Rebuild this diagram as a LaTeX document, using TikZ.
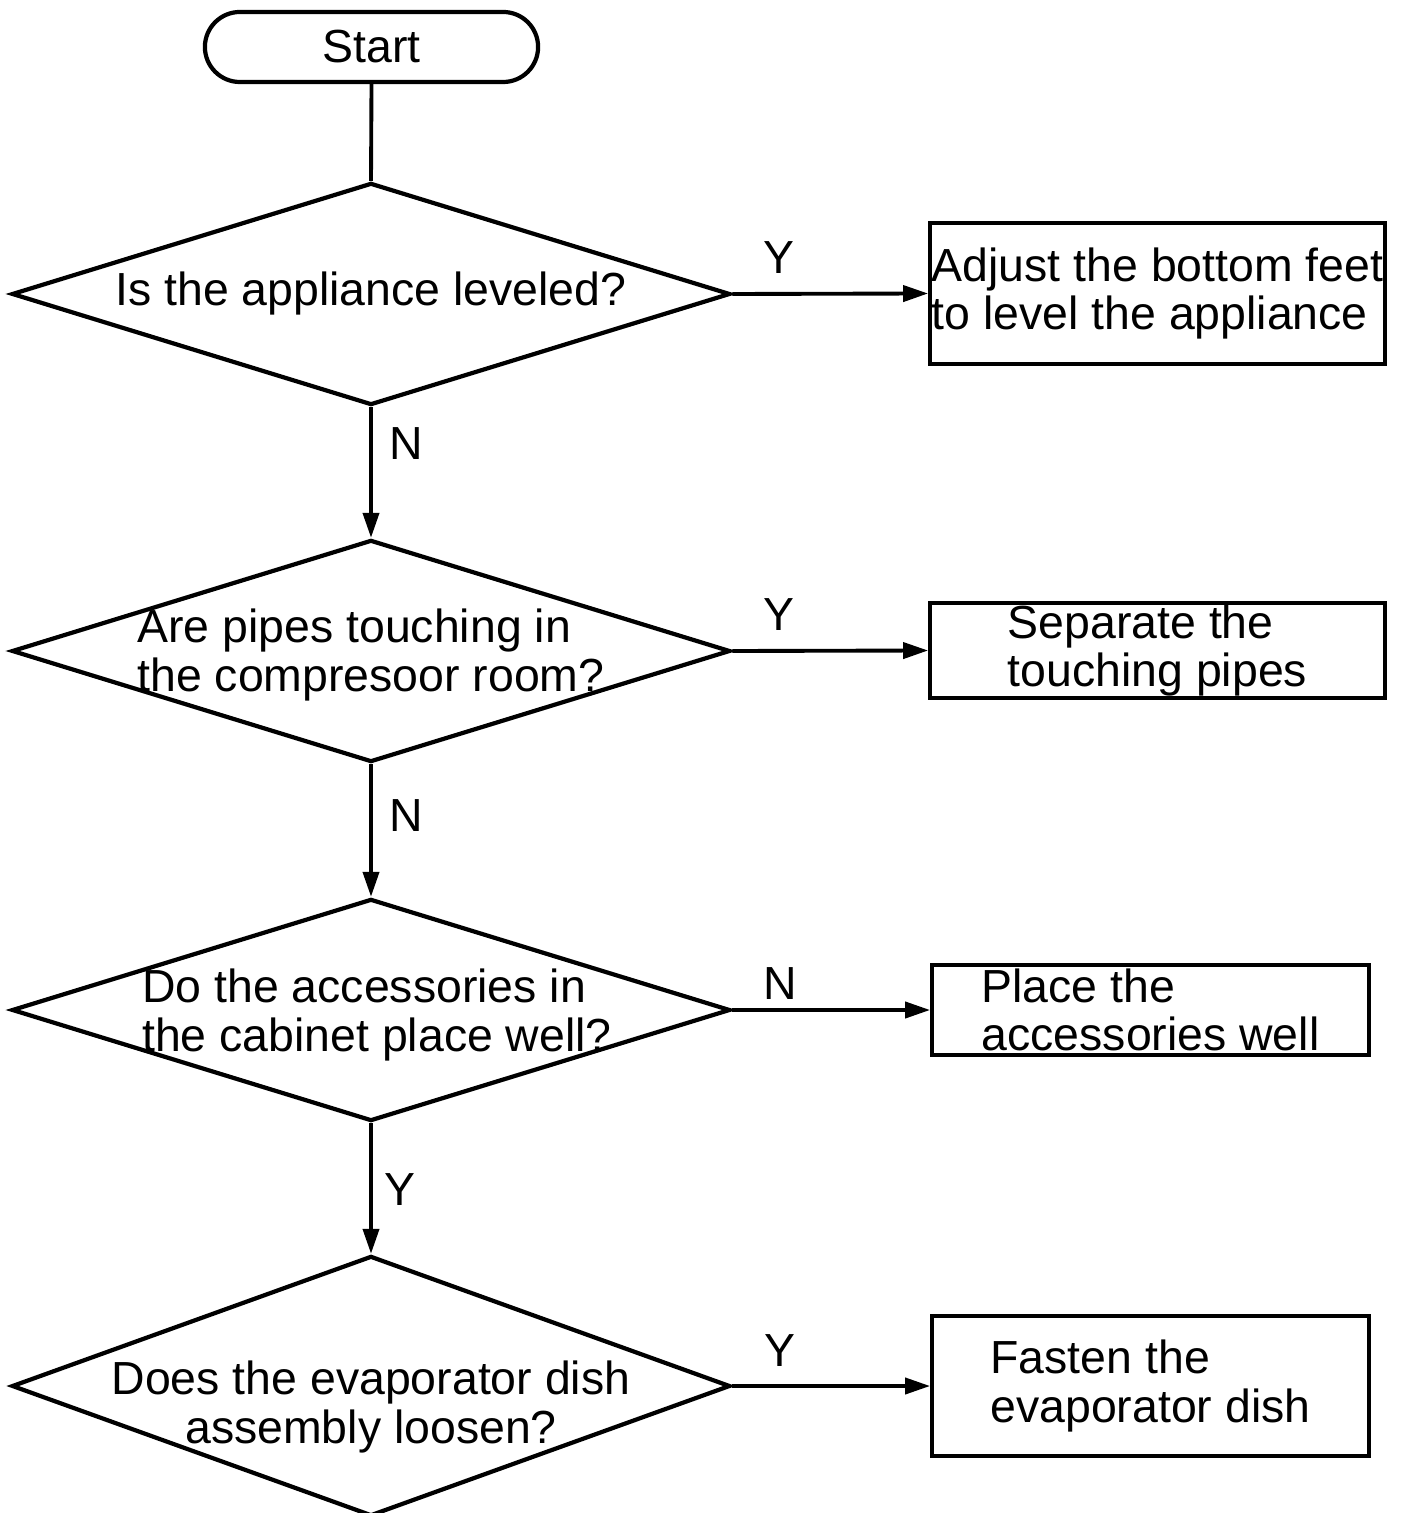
\documentclass[tikz,border=0pt]{standalone}
\usepackage{fontspec}
\setmainfont{Liberation Sans}
\usetikzlibrary{shapes.geometric,arrows.meta}
\tikzset{
  decision/.style={diamond, draw, line width=1.2pt, minimum width=7.18cm, minimum height=2.22cm, inner sep=0pt},
  qtext/.style={align=left, inner sep=0pt},
  actbox/.style={draw, line width=1pt, align=left, inner sep=0pt},
  yn/.style={inner sep=0pt},
  flow/.style={line width=1.1pt, -{Triangle[length=0.25cm,width=0.16cm]}},
}

\begin{document}
\begin{tikzpicture}[x=0.01cm, y=-0.01cm, font=\fontsize{13.2}{13.7}\selectfont]
  \useasboundingbox (0,0) rectangle (1403,1513);
  % Start
  \node[draw, line width=1.2pt, rounded corners=0.35cm, minimum width=3.33cm, minimum height=0.7cm] (start) at (371.5,47) {Start};
  % Decisions
  \node[decision] (d1) at (371,294) {};
  \node[qtext] (q1) at (d1) {Is the appliance leveled?};
  \node[decision] (d2) at (371,651) {};
  \node[qtext, yshift=-0.04cm] (q2) at (d2) {Are pipes touching in\\the compresoor room?};
  \node[decision] (d3) at (371,1010) {};
  \node[qtext, xshift=0.06cm, yshift=-0.05cm] (q3) at (d3) {Do the accessories in\\the cabinet place well?};
  \node[decision, minimum height=2.6cm] (d4) at (371,1386) {};
  \node[qtext, align=center, yshift=-0.21cm] (q4) at (d4) {Does the evaporator dish\\assembly loosen?};
  % Actions
  \node[actbox, minimum width=4.55cm, minimum height=1.41cm] (b1) at (1157.5,293.5) {Adjust the bottom feet\\to level the appliance};
  \node[actbox, minimum width=4.55cm, minimum height=0.95cm] (b2) at (1157.5,650.5) {Separate the\\touching pipes};
  \node[actbox, minimum width=4.37cm, minimum height=0.9cm] (b3) at (1150.5,1010) {Place the\\accessories well};
  \node[actbox, minimum width=4.37cm, minimum height=1.4cm] (b4) at (1150.5,1386) {Fasten the\\evaporator dish};
  % Down the chain
  \draw[line width=1.1pt] (start.south) -- (d1.north);
  \draw[flow] (d1.south) -- node[yn, pos=0.28, right=0.17cm] (n1) {N} (d2.north);
  \draw[flow] (d2.south) -- node[yn, pos=0.39, right=0.17cm] (n2) {N} (d3.north);
  \draw[flow] (d3.south) -- node[yn, pos=0.51, right=0.12cm] (y3) {Y} (d4.north);
  % Out to the right
  \draw[flow] (d1.east) -- node[yn, pos=0.24, above=0.18cm] (y1) {Y} (b1.west);
  \draw[flow] (d2.east) -- node[yn, pos=0.24, above=0.18cm] (y2) {Y} (b2.west);
  \draw[flow] (d3.east) -- node[yn, pos=0.24, above=0.09cm] (n3) {N} (b3.west);
  \draw[flow] (d4.east) -- node[yn, pos=0.24, above=0.18cm] (y4) {Y} (b4.west);
\end{tikzpicture}
\end{document}
